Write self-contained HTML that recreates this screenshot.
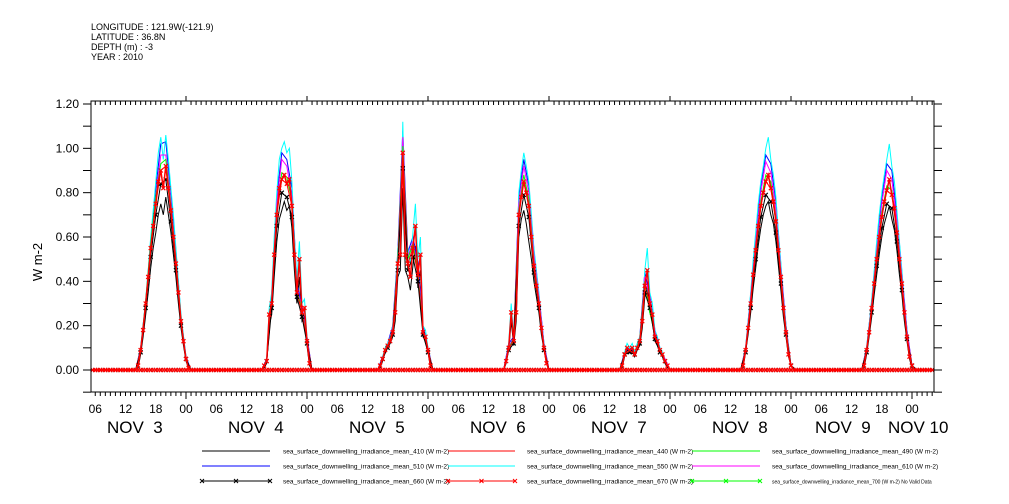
<!DOCTYPE html>
<html><head><meta charset="utf-8"><style>
body{margin:0;background:#fff;}
svg{display:block;font-family:"Liberation Sans",sans-serif;}
</style></head><body>
<svg id="chart" width="1009" height="504" viewBox="0 0 1009 504" xmlns="http://www.w3.org/2000/svg">
<rect width="1009" height="504" fill="#fff"/>
<g font-size="9" fill="#000">
<text x="91" y="30">LONGITUDE : 121.9W(-121.9)</text>
<text x="91" y="40">LATITUDE : 36.8N</text>
<text x="91" y="50">DEPTH (m) : -3</text>
<text x="91" y="60">YEAR : 2010</text>
</g>
<text x="42" y="262" font-size="13" transform="rotate(-90 42 262)" text-anchor="middle">W m-2</text>
<g id="axes"></g>
<g id="series"></g>
<rect x="91" y="101" width="843" height="291" fill="none" stroke="#000" stroke-width="1"/>
<g id="legend" font-size="6.5"></g>
</svg>
<script>
// Hour offsets (from Nov 3 00:00 UTC) where each day's daytime window starts
const dayStarts = [14, 38, 62, 86, 110, 134, 158];
const yTicks = [0.0, 0.2, 0.4, 0.6, 0.8, 1.0, 1.2];
const yTickLabels = ["0.00", "0.20", "0.40", "0.60", "0.80", "1.00", "1.20"];
const hourLabels = ["06", "12", "18", "00"];
const dayLabels = ["NOV  3", "NOV  4", "NOV  5", "NOV  6", "NOV  7", "NOV  8", "NOV  9", "NOV 10"];
// half-hourly series (14:00 .. 01:30 each day, 24 values/day)
const s550 = [
0,0.02,0.1,0.2,0.32,0.45,0.6,0.72,0.85,0.98,1.05,0.95,1.06,0.95,0.82,0.7,0.55,0.4,0.25,0.15,0.06,0.01,0,0,
0,0,0,0.02,0.05,0.28,0.35,0.6,0.8,0.95,1.0,1.03,0.98,1.0,0.85,0.6,0.4,0.58,0.3,0.32,0.15,0.04,0,0,
0,0.02,0.06,0.1,0.12,0.15,0.2,0.3,0.55,0.6,1.12,0.6,0.55,0.48,0.62,0.75,0.5,0.6,0.2,0.18,0.1,0.02,0,0,
0,0,0,0.05,0.12,0.3,0.15,0.3,0.8,0.9,0.98,0.92,0.85,0.7,0.55,0.45,0.35,0.22,0.12,0.04,0,0,0,0,
0,0.02,0.08,0.12,0.1,0.12,0.08,0.12,0.15,0.25,0.45,0.55,0.35,0.3,0.18,0.15,0.1,0.08,0.05,0.02,0,0,0,0,
0,0.02,0.1,0.22,0.35,0.5,0.62,0.75,0.85,0.92,1.0,1.05,0.95,0.88,0.78,0.62,0.48,0.32,0.2,0.08,0.02,0,0,0,
0,0.02,0.1,0.2,0.32,0.45,0.58,0.7,0.8,0.88,0.95,1.02,0.92,0.85,0.72,0.58,0.45,0.3,0.18,0.07,0.02,0,0,0];
const s670 = [
0,0.02,0.09,0.18,0.3,0.42,0.55,0.65,0.75,0.85,0.9,0.82,0.92,0.82,0.72,0.6,0.48,0.35,0.22,0.13,0.05,0.01,0,0,
0,0,0,0.02,0.04,0.25,0.3,0.52,0.7,0.82,0.86,0.88,0.84,0.86,0.74,0.52,0.35,0.5,0.26,0.28,0.13,0.03,0,0,
0,0.02,0.05,0.09,0.11,0.13,0.17,0.26,0.48,0.52,0.98,0.52,0.48,0.42,0.55,0.65,0.43,0.52,0.17,0.15,0.09,0.02,0,0,
0,0,0,0.04,0.1,0.26,0.13,0.26,0.7,0.78,0.85,0.8,0.74,0.6,0.47,0.38,0.3,0.19,0.1,0.03,0,0,0,0,
0,0.02,0.07,0.1,0.09,0.1,0.07,0.1,0.13,0.22,0.38,0.45,0.3,0.25,0.15,0.13,0.09,0.07,0.04,0.02,0,0,0,0,
0,0.02,0.09,0.19,0.3,0.43,0.54,0.65,0.74,0.8,0.85,0.88,0.82,0.76,0.67,0.54,0.42,0.28,0.17,0.07,0.02,0,0,0,
0,0.02,0.09,0.17,0.28,0.39,0.5,0.6,0.69,0.76,0.81,0.86,0.79,0.73,0.62,0.5,0.39,0.26,0.15,0.06,0.02,0,0,0];
const s410 = [
0,0.01,0.07,0.15,0.25,0.35,0.46,0.55,0.62,0.7,0.75,0.7,0.78,0.7,0.62,0.52,0.42,0.3,0.19,0.11,0.04,0.01,0,0,
0,0,0,0.01,0.03,0.2,0.25,0.42,0.58,0.68,0.72,0.76,0.72,0.74,0.64,0.45,0.3,0.42,0.22,0.24,0.11,0.02,0,0,
0,0.01,0.04,0.08,0.1,0.12,0.15,0.22,0.42,0.45,0.82,0.45,0.42,0.36,0.47,0.56,0.37,0.45,0.15,0.13,0.08,0.01,0,0,
0,0,0,0.03,0.09,0.22,0.11,0.22,0.6,0.68,0.72,0.66,0.58,0.5,0.4,0.33,0.26,0.16,0.09,0.03,0,0,0,0,
0,0.01,0.06,0.09,0.08,0.09,0.06,0.09,0.11,0.19,0.33,0.38,0.26,0.22,0.13,0.11,0.08,0.06,0.03,0.01,0,0,0,0,
0,0.01,0.08,0.16,0.26,0.37,0.46,0.56,0.64,0.7,0.74,0.76,0.7,0.66,0.58,0.47,0.36,0.24,0.15,0.06,0.02,0,0,0,
0,0.01,0.07,0.15,0.24,0.34,0.43,0.52,0.6,0.66,0.7,0.74,0.68,0.63,0.54,0.43,0.34,0.22,0.13,0.05,0.01,0,0,0];
// hourly series (14:00 .. 01:00 each day, 12 values/day)
const s610 = [
0,0.09,0.3,0.55,0.78,0.97,0.97,0.76,0.51,0.23,0.05,0,
0,0,0.04,0.32,0.75,0.95,0.92,0.78,0.37,0.28,0.14,0,
0,0.05,0.11,0.19,0.5,1.05,0.51,0.58,0.46,0.19,0.09,0,
0,0,0.11,0.14,0.75,0.92,0.8,0.52,0.33,0.11,0,0,
0,0.07,0.09,0.07,0.14,0.42,0.33,0.17,0.09,0.05,0,0,
0,0.09,0.33,0.58,0.8,0.94,0.89,0.72,0.45,0.19,0.02,0,
0,0.09,0.3,0.54,0.75,0.9,0.86,0.67,0.42,0.17,0.02,0];
const s510 = [
0,0.1,0.31,0.58,0.82,1.02,1.03,0.8,0.54,0.24,0.06,0,
0,0,0.05,0.34,0.78,0.98,0.95,0.82,0.39,0.29,0.15,0,
0,0.06,0.12,0.2,0.53,1.08,0.53,0.6,0.49,0.2,0.1,0,
0,0,0.12,0.15,0.78,0.95,0.83,0.54,0.34,0.12,0,0,
0,0.08,0.1,0.08,0.15,0.44,0.34,0.18,0.1,0.05,0,0,
0,0.1,0.34,0.6,0.83,0.97,0.93,0.76,0.47,0.2,0.02,0,
0,0.1,0.31,0.56,0.78,0.93,0.9,0.7,0.44,0.18,0.02,0];
const s490 = [
0,0.09,0.31,0.57,0.78,0.93,0.95,0.74,0.5,0.23,0.05,0,
0,0,0.04,0.31,0.72,0.89,0.87,0.76,0.36,0.27,0.13,0,
0,0.05,0.11,0.18,0.5,1.01,0.5,0.57,0.44,0.18,0.09,0,
0,0,0.1,0.14,0.72,0.88,0.77,0.49,0.31,0.1,0,0,
0,0.07,0.09,0.07,0.14,0.4,0.26,0.16,0.09,0.04,0,0,
0,0.09,0.31,0.56,0.76,0.88,0.85,0.69,0.43,0.18,0.02,0,
0,0.09,0.29,0.52,0.71,0.83,0.81,0.64,0.4,0.15,0.02,0];
const s440 = [
0,0.09,0.3,0.55,0.75,0.9,0.92,0.72,0.48,0.22,0.05,0,
0,0,0.04,0.3,0.7,0.86,0.84,0.74,0.35,0.26,0.13,0,
0,0.05,0.11,0.17,0.48,0.98,0.48,0.55,0.43,0.17,0.09,0,
0,0,0.1,0.13,0.7,0.85,0.74,0.47,0.3,0.1,0,0,
0,0.07,0.09,0.07,0.13,0.38,0.3,0.15,0.09,0.04,0,0,
0,0.09,0.3,0.54,0.74,0.85,0.82,0.67,0.42,0.17,0.02,0,
0,0.09,0.28,0.5,0.69,0.81,0.79,0.62,0.39,0.15,0.02,0];
const s660 = [
0,0.08,0.28,0.51,0.7,0.84,0.86,0.67,0.45,0.2,0.05,0,
0,0,0.04,0.28,0.65,0.8,0.78,0.69,0.33,0.24,0.12,0,
0,0.05,0.1,0.16,0.45,0.91,0.45,0.51,0.4,0.16,0.08,0,
0,0,0.09,0.12,0.65,0.79,0.69,0.44,0.28,0.09,0,0,
0,0.07,0.08,0.07,0.12,0.35,0.28,0.14,0.08,0.04,0,0,
0,0.08,0.28,0.5,0.69,0.79,0.76,0.62,0.39,0.16,0.02,0,
0,0.08,0.26,0.47,0.64,0.75,0.73,0.58,0.36,0.14,0.02,0];

const NS="http://www.w3.org/2000/svg";
const X0=91, X1=934, H0=5.16, H1=172.4;
function xs(h){return 65 + h*121/24;}
function ys(v){return 370 - v*266/1.2;}
function mk(tag,attrs,parent){const e=document.createElementNS(NS,tag);for(const k in attrs)e.setAttribute(k,attrs[k]);parent.appendChild(e);return e;}
const axes=document.getElementById('axes'), ser=document.getElementById('series'), leg=document.getElementById('legend');

// y ticks
for(let i=0;i<=13;i++){
  const v=-0.1+i*0.1, y=ys(v);
  const t=mk('line',{x1:83,x2:91,y1:y,y2:y,stroke:'#000'},axes);
  
  
  const t2=mk('line',{x1:934,x2:942,y1:y,y2:y,stroke:'#000'},axes);
  
  
}
yTicks.forEach((v,i)=>{
  const t=mk('text',{x:79,y:ys(v)+4,'font-size':12,'text-anchor':'end'},axes);
  t.textContent=yTickLabels[i];
  
  
});
// x ticks
for(let h=6;h<=172;h++){
  const x=xs(h); if(x<X0||x>X1)continue;
  const major=h%24===0;
  const b=mk('line',{x1:x,x2:x,y1:392,y2:major?399:396,stroke:'#000'},axes);
  
  
  const t=mk('line',{x1:x,x2:x,y1:major?96:101,y2:major?101:105,stroke:'#000'},axes);
  
  
  if(h%6===0){
    const l=mk('text',{x:x,y:413,'font-size':12,'text-anchor':'middle'},axes);
    l.textContent=hourLabels[(h/6-1)%4];
    
    
  }
}
dayLabels.forEach((d,i)=>{
  let x=107+i*121;
  if(i===6)x=815; if(i===7)x=888;
  const l=mk('text',{x:x,y:433,'font-size':17},axes);
  l.textContent=d.replace(/ /g,'\u00a0');
  
  
});

// build full-timeline points from per-day arrays
function pts(arr,perDay,step){
  const p=[[H0,0]];
  dayStarts.forEach((s,d)=>{
    for(let i=0;i<perDay;i++)p.push([s+i*step,arr[d*perDay+i]]);
  });
  p.push([H1,0]);
  return p;
}
function drawLine(p,color,name,w){
  const l=mk('polyline',{points:p.map(q=>xs(q[0]).toFixed(1)+','+ys(q[1]).toFixed(1)).join(' '),fill:'none',stroke:color,'stroke-width':w||1},ser);
  
  
}
function drawMarks(p,color,name,step){
  const g=mk('g',{stroke:color,'stroke-width':1.2},ser);
  
  
  const all=[];
  // include zero markers for night-time too
  for(let h=Math.ceil(H0/step)*step;h<=H1;h+=step)all.push([h,0]);
  const vals=p.filter(q=>q[1]>0);
  all.concat(vals).forEach(q=>{
    const x=xs(q[0]),y=ys(q[1]);
    mk('path',{d:`M${x-2},${y-2}L${x+2},${y+2}M${x-2},${y+2}L${x+2},${y-2}`},g);
  });
}
drawLine(pts(s410,24,0.5),'#000','series-410');
drawLine(pts(s510,12,1),'#0000ff','series-510');
drawLine(pts(s550,24,0.5),'#00ffff','series-550');
drawLine(pts(s610,12,1),'#ff00ff','series-610');
drawLine(pts(s490,12,1),'#00ff00','series-490');
drawLine(pts(s440,12,1),'#ff0000','series-440');
const p660=pts(s660,12,1);
drawLine(p660,'#000','series-660');
drawMarks(p660,'#000','series-660-markers',1);
const p670=pts(s670,24,0.5);
drawLine(p670,'#ff0000','series-670',1.5);
drawMarks(p670,'#ff0000','series-670-markers',0.5);

// legend
const legItems=[
 ['410','#000',false],['440','#ff0000',false],['490','#00ff00',false],
 ['510','#0000ff',false],['550','#00ffff',false],['610','#ff00ff',false],
 ['660','#000',true],['670','#ff0000',true],['700','#00ff00',true]];
const colLine=[[202,270],[448,515],[692,760]], colText=[283,527,772], rowY=[451,466,481];
legItems.forEach((it,i)=>{
  const c=i%3,r=Math.floor(i/3),y=rowY[r];
  const g=mk('g',{},leg);
  
  
  mk('line',{x1:colLine[c][0],x2:colLine[c][1],y1:y,y2:y,stroke:it[1]},g);
  if(it[2]){[0,0.5,1].forEach(f=>{const x=colLine[c][0]+f*(colLine[c][1]-colLine[c][0]);mk('path',{d:`M${x-2},${y-2}L${x+2},${y+2}M${x-2},${y+2}L${x+2},${y-2}`,stroke:it[1]},g);});}
  const t=mk('text',{x:colText[c],y:y+2.5,'font-size':i===8?5:6.5},g);
  t.textContent='sea_surface_downwelling_irradiance_mean_'+it[0]+' (W m-2)'+(i===8?' No Valid Data':'');
});
</script>
</body></html>
